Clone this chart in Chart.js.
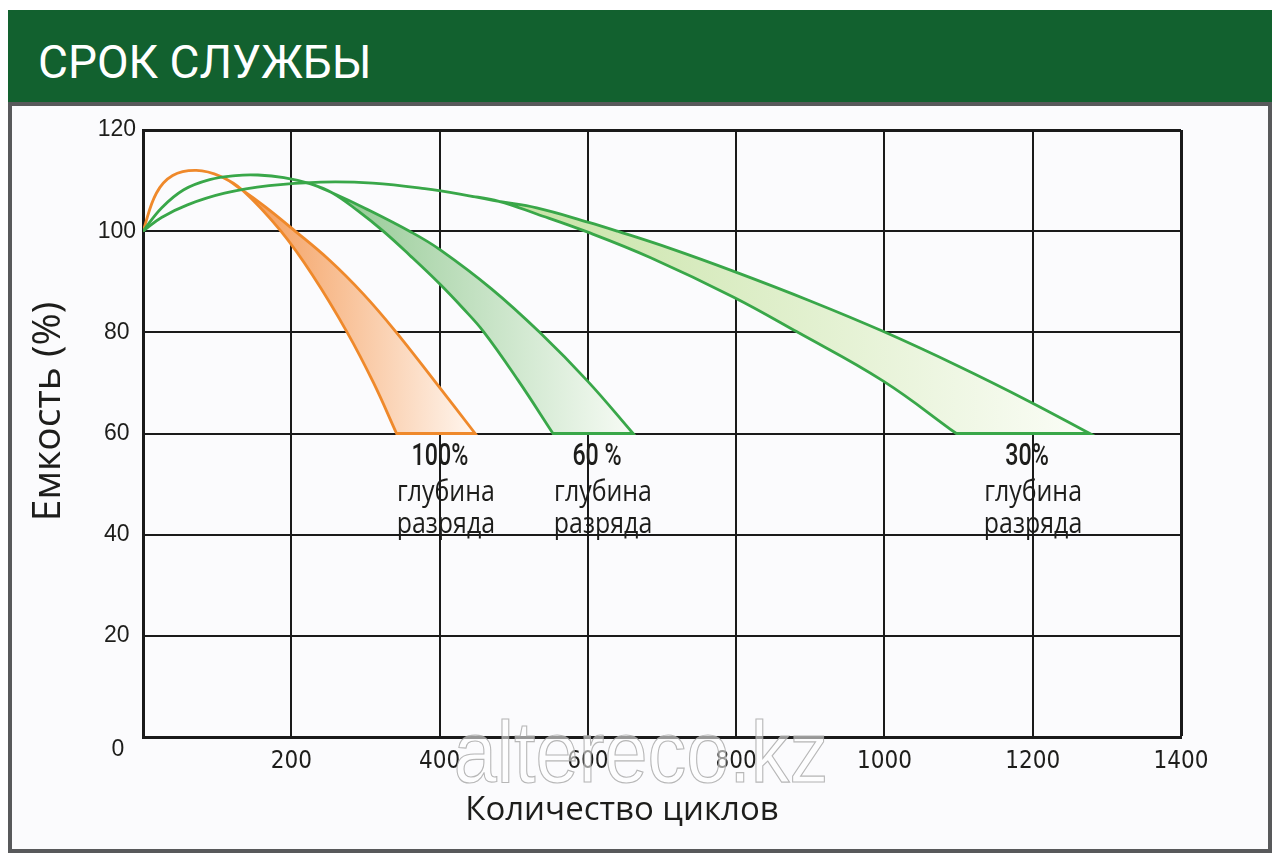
<!DOCTYPE html>
<html>
<head>
<meta charset="utf-8">
<title>Срок службы</title>
<script src="https://cdn.jsdelivr.net/npm/chart.js@4.4.1/dist/chart.umd.min.js"></script>
<style>
  html, body { margin: 0; padding: 0; background: #fff; }
  #page { position: relative; width: 1280px; height: 861px; overflow: hidden; }
  #header { position: absolute; left: 8px; top: 10px; width: 1264px; height: 92px; background: #12612f; }
  #header span { position: absolute; left: 30px; top: 29px; font: 46px/46px Roboto, sans-serif; color: #fff; white-space: nowrap; }
  #frame { position: absolute; left: 8px; top: 102px; width: 1264px; height: 751px; box-sizing: border-box; border: 4px solid #58595b; background: #fbfbfd; }
  #chart { position: absolute; left: 0; top: 0; }
</style>
</head>
<body>
<div id="page">
  <div id="header"><span>СРОК СЛУЖБЫ</span></div>
  <div id="frame"></div>
  <canvas id="chart" width="1280" height="861"></canvas>
</div>
<script>
const xTicks = [0, 200, 400, 600, 800, 1000, 1200, 1400];
const yTicks = [0, 20, 40, 60, 80, 100, 120];

const xTitle = 'Количество циклов';
const yTitle = 'Емкость (%)';
const depthNames = ['30%', '60 %', '100%'];
const depthCaption = ['глубина', 'разряда'];

// [cycles, capacity %]
// rising part shared by both edges of a band, then the upper and lower edge down to 60 %
const rise30 = [[0, 100], [25, 102.7], [60, 105.2], [110, 107.5], [170, 109], [240, 109.7], [310, 109.5],
  [380, 108.4], [440, 107], [480, 105.9]];
const upper30 = [[531, 104.6], [600, 101.8], [640, 100], [711, 96.6], [796, 92.1], [900, 86.2],
  [998, 80.2], [1100, 73.3], [1196, 66.3], [1277, 60]];
const lower30 = [[531, 103.4], [600, 99.8], [684, 94.8], [796, 87], [882, 80.1], [998, 70.4], [1097, 60]];

const rise60 = [[0, 100], [25, 104.6], [55, 108.2], [90, 110.2], [125, 111], [155, 111.1], [190, 110.6],
  [225, 109.4], [255, 107.6]];
const upper60 = [[300, 104.5], [362, 99.8], [400, 96.4], [470, 88.6], [535, 80], [600, 70.3], [661, 60]];
const lower60 = [[290, 104], [324, 100], [360, 95.2], [400, 89.6], [430, 85], [459, 80.2], [506, 70.5], [553, 60]];

const rise100 = [[0, 100], [18, 107.5], [40, 111], [72, 112], [105, 110.8], [135, 108]];
const upper100 = [[165, 104.8], [202, 100.4], [252, 94.2], [297, 87.6], [340, 80.3], [390, 71], [448, 60]];
const lower100 = [[186, 100], [230, 91], [275, 80.1], [311, 70], [342, 60]];

const last = a => a[a.length - 1];

// closed outline: up the shared part, down the upper edge, along 60 %, back up the lower edge
// (corner points doubled so the bottom stays a straight line)
function outline(rise, upper, lower) {
  const pts = [...rise, ...upper, last(upper), last(lower), ...lower.slice().reverse(), ...rise.slice().reverse()];
  return pts.map(([x, y]) => ({x, y}));
}

function bandFill(from, to, c0, c1) {
  return (ctx) => {
    const chart = ctx.chart;
    if (!chart.chartArea) return c0;
    const xs = chart.scales.x;
    const g = chart.ctx.createLinearGradient(xs.getPixelForValue(from), 0, xs.getPixelForValue(to), 0);
    g.addColorStop(0, c0);
    g.addColorStop(1, c1);
    return g;
  };
}

const bands = [
  {rise: rise30, upper: upper30, lower: lower30, line: '#39a749', c0: '#c6e2a3', c1: '#fbfdf7'},
  {rise: rise60, upper: upper60, lower: lower60, line: '#39a749', c0: '#93c993', c1: '#f7fbf5'},
  {rise: rise100, upper: upper100, lower: lower100, line: '#ef892b', c0: '#f39955', c1: '#fff6ef'}
];

const datasets = bands.map((b, i) => ({
  label: depthNames[i],
  data: outline(b.rise, b.upper, b.lower),
  borderColor: b.line,
  borderWidth: 2.8,
  backgroundColor: bandFill(last(b.rise)[0], last(b.upper)[0], b.c0, b.c1),
  fill: 'shape',
  tension: 0.4,
  pointRadius: 0,
  pointHoverRadius: 0
}));

const textPlugin = {
  id: 'texts',
  afterDatasetsDraw(chart) {
    const {ctx, scales: {x, y}} = chart;
    ctx.save();
    ctx.fillStyle = '#1d1d1b';
    ctx.textAlign = 'center';
    ctx.textBaseline = 'middle';
    bands.forEach((b, i) => {
      const cx = x.getPixelForValue((last(b.upper)[0] + last(b.lower)[0]) / 2) + 10;
      const y60 = y.getPixelForValue(60);
      ctx.save();
      ctx.translate(cx - 6, y60 + 24);
      ctx.scale(0.75, 1);
      ctx.font = '500 31px Roboto';
      ctx.fillText(depthNames[i], 0, 0);
      ctx.restore();
      depthCaption.forEach((t, k) => {
        ctx.save();
        ctx.translate(cx, y60 + 59 + k * 32);
        ctx.scale(0.86, 1);
        ctx.font = '29px "Open Sans"';
        ctx.fillText(t, 0, 0);
        ctx.restore();
      });
    });
    ctx.restore();
  },
  afterDraw(chart) {
    const {ctx, chartArea: a, scales: {y}} = chart;
    ctx.save();
    ctx.fillStyle = '#1d1d1b';
    // the zero of the value axis sits below the corner
    ctx.font = '23px "Liberation Sans"';
    ctx.textAlign = 'center';
    ctx.textBaseline = 'middle';
    ctx.fillText('0', a.left - 25, y.getPixelForValue(0) + 13);
    // axis titles
    ctx.font = '33px "Open Sans"';
    ctx.textBaseline = 'alphabetic';
    ctx.fillText(xTitle, (a.left + a.right) / 2 - 40, a.bottom + 83);
    ctx.save();
    ctx.translate(60, (a.top + a.bottom) / 2 - 22);
    ctx.rotate(-Math.PI / 2);
    ctx.font = '39px "Open Sans"';
    ctx.fillText(yTitle, 0, 0);
    ctx.restore();
    // watermark
    ctx.save();
    ctx.translate(641, a.bottom + 45);
    ctx.scale(0.88, 1);
    ctx.font = '88px "Liberation Sans"';
    ctx.fillStyle = 'rgba(255,255,255,0.55)';
    ctx.strokeStyle = 'rgba(165,165,165,0.8)';
    ctx.lineWidth = 1.2;
    ctx.fillText('altereco.kz', 0, 0);
    ctx.strokeText('altereco.kz', 0, 0);
    ctx.restore();
    ctx.restore();
  }
};

new Chart(document.getElementById('chart'), {
  type: 'line',
  data: {datasets},
  options: {
    responsive: false,
    animation: false,
    devicePixelRatio: 1,
    layout: {padding: {left: 0, top: 130, right: 99, bottom: 64}},
    plugins: {legend: {display: false}, tooltip: {enabled: false}, title: {display: false}},
    scales: {
      x: {
        type: 'linear',
        min: 0,
        max: 1400,
        afterBuildTicks: s => { s.ticks = xTicks.map(v => ({value: v})); },
        afterFit: s => { s.height = 60; },
        grid: {color: '#1a1a1a', lineWidth: c => (c.tick && c.tick.value === 1400 ? 3 : 2), drawTicks: false},
        border: {color: '#1a1a1a', width: 3},
        ticks: {
          padding: 10,
          color: '#1d1d1b',
          font: {family: "'Liberation Sans Narrow', 'DejaVu Sans Condensed', Roboto", size: 24},
          callback: v => (v === 0 ? '' : String(v))
        }
      },
      y: {
        min: 0,
        max: 120,
        afterBuildTicks: s => { s.ticks = yTicks.map(v => ({value: v})); },
        afterFit: s => { s.width = 143; },
        grid: {color: '#1a1a1a', lineWidth: c => (c.tick && c.tick.value === 120 ? 3 : 2), drawTicks: false},
        border: {color: '#1a1a1a', width: 3},
        ticks: {
          padding: 7,
          crossAlign: 'center',
          color: '#1d1d1b',
          font: {family: "'Liberation Sans', Arial", size: 23},
          callback: v => (v === 0 ? '' : String(v))
        }
      }
    }
  },
  plugins: [textPlugin]
});
</script>
</body>
</html>
